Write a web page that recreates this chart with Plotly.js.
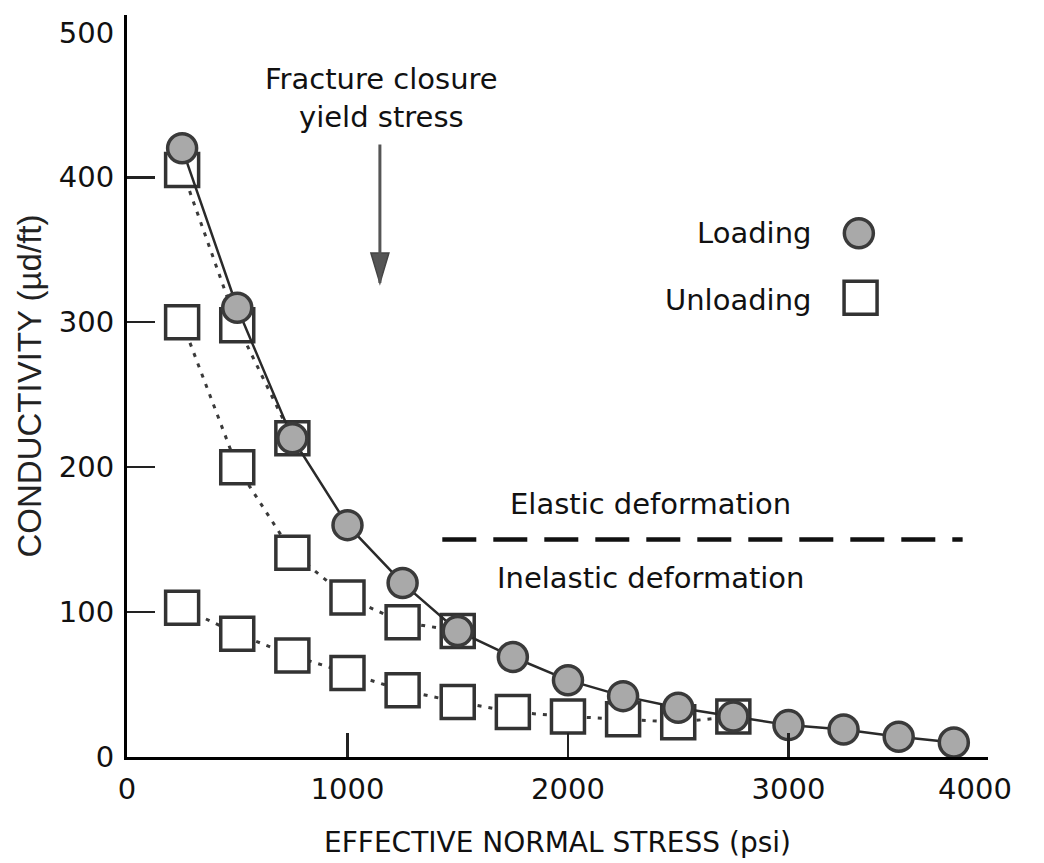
<!DOCTYPE html>
<html>
<head>
<meta charset="utf-8">
<script src="https://cdn.plot.ly/plotly-3.0.1.min.js"></script>
<style>html,body{margin:0;padding:0;background:#fff;}#chart{width:1044px;height:863px;}</style>
</head>
<body>
<div id="chart"></div>
<script>
// Loading curve
const stressLoad = [250, 500, 750, 1000, 1250, 1500, 1750, 2000, 2250, 2500, 2750, 3000, 3250, 3500, 3750];
const condLoad   = [420, 310, 220, 160, 120, 87, 69, 53, 42, 34, 28, 22, 19, 14, 10];
// Unloading curves (from 750, 1500 and 2750 psi)
const stressUnload1 = [750, 500, 250];
const condUnload1   = [220, 298, 405];
const stressUnload2 = [1500, 1250, 1000, 750, 500, 250];
const condUnload2   = [87, 93, 110, 141, 200, 300];
const stressUnload3 = [2750, 2500, 2250, 2000, 1750, 1500, 1250, 1000, 750, 500, 250];
const condUnload3   = [28, 24, 26, 28, 31, 38, 46, 58, 70, 85, 103];
// Axis ticks
const xTickVals = [0, 1000, 2000, 3000, 3846];
const xTickText = ['0', '1000', '2000', '3000', '4000'];
const xTickMarks = [1000, 2000, 3000];
const yTickVals = [0, 100, 200, 300, 400, 500];
const yTickText = ['0', '100', '200', '300', '400', '500'];
const yTickMarks = [100, 200, 300, 400];
const xRange = [0, 3905];
const yRange = [0, 512];
// Dividing line between elastic / inelastic
const divideX = [1430, 3790];
const divideY = 150;

const ink = '#333333';
const squareMarker = {symbol: 'square', size: 33, color: '#ffffff', line: {color: ink, width: 3.5}};
const unloadLine = {color: '#3a3a3a', width: 3, dash: '4px,7px'};

function unloadTrace(xs, ys) {
  return {x: xs, y: ys, type: 'scatter', mode: 'lines+markers', xaxis: 'x2', yaxis: 'y2',
          line: unloadLine, marker: squareMarker, showlegend: false, cliponaxis: false, hoverinfo: 'x+y'};
}

const data = [
  unloadTrace(stressUnload3, condUnload3),
  unloadTrace(stressUnload2, condUnload2),
  unloadTrace(stressUnload1, condUnload1),
  {x: stressLoad, y: condLoad, type: 'scatter', mode: 'lines+markers', xaxis: 'x2', yaxis: 'y2',
   line: {color: '#2a2a2a', width: 2.5},
   marker: {symbol: 'circle', size: 29, color: '#a9a9a9', line: {color: '#3a3a3a', width: 3.5}},
   showlegend: false, cliponaxis: false}
];

const F = 'DejaVu Sans, Verdana, sans-serif';
const layout = {
  width: 1044, height: 863,
  margin: {l: 127, r: 56, t: 15, b: 106},
  paper_bgcolor: '#ffffff', plot_bgcolor: '#ffffff',
  font: {family: F, size: 29, color: '#111111'},
  showlegend: false,
  xaxis: {range: xRange, showgrid: false, zeroline: false, showline: true, linecolor: '#000', linewidth: 3,
          ticks: '', tickmode: 'array', tickvals: xTickVals, ticktext: xTickText, ticklabelstandoff: 4,
          tickfont: {size: 29}, fixedrange: true,
          title: {text: 'EFFECTIVE NORMAL STRESS (psi)', font: {size: 28, color: '#111'}, standoff: 28}},
  yaxis: {range: yRange, showgrid: false, zeroline: false, showline: true, linecolor: '#000', linewidth: 3,
          ticks: '', tickmode: 'array', tickvals: yTickVals, ticktext: yTickText, ticklabelstandoff: 4,
          tickfont: {size: 29}, fixedrange: true,
          title: {text: 'CONDUCTIVITY (µd/ft)', font: {family: 'Liberation Sans, Arial, sans-serif', size: 33, color: '#222'}, standoff: 8}},
  xaxis2: {range: xRange, overlaying: 'x', anchor: 'y2', side: 'bottom', showgrid: false, zeroline: false, showline: false,
           ticks: 'inside', ticklen: 24, tickwidth: 2.5, tickcolor: '#222', tickmode: 'array', tickvals: xTickMarks,
           showticklabels: false, fixedrange: true},
  yaxis2: {range: yRange, overlaying: 'y', anchor: 'x2', side: 'left', showgrid: false, zeroline: false, showline: false,
           ticks: 'inside', ticklen: 28, tickwidth: 2.5, tickcolor: '#222', tickmode: 'array', tickvals: yTickMarks,
           showticklabels: false, fixedrange: true},
  shapes: [
    {type: 'line', xref: 'x', yref: 'y', x0: divideX[0], x1: divideX[1], y0: divideY, y1: divideY,
     line: {color: '#111', width: 4.5, dash: '34px,17px'}},
    // arrow head
    {type: 'path', xref: 'x', yref: 'y', xsizemode: 'pixel', ysizemode: 'pixel', xanchor: 1147, yanchor: 327,
     path: 'M-9,30 L9,30 L0,0 Z', fillcolor: '#555', line: {color: '#444', width: 1.5}},
    // legend keys
    {type: 'circle', xref: 'paper', yref: 'paper', xsizemode: 'pixel', ysizemode: 'pixel', xanchor: 0.850, yanchor: 0.706,
     x0: -14.5, x1: 14.5, y0: -14.5, y1: 14.5, fillcolor: '#a9a9a9', line: {color: '#3a3a3a', width: 3.5}},
    {type: 'rect', xref: 'paper', yref: 'paper', xsizemode: 'pixel', ysizemode: 'pixel', xanchor: 0.852, yanchor: 0.619,
     x0: -16.5, x1: 16.5, y0: -16.5, y1: 16.5, fillcolor: '#ffffff', line: {color: ink, width: 3.5}}
  ],
  annotations: [
    {text: 'Fracture closure<br>yield stress', xref: 'paper', yref: 'paper', x: 0.296, y: 0.888,
     xanchor: 'center', yanchor: 'middle', showarrow: false, font: {size: 29}},
    {text: '', xref: 'x', yref: 'y', x: 1147, y: 327, ax: 0, ay: -140, showarrow: true, arrowhead: 0,
     arrowwidth: 3, arrowcolor: '#555'},
    {text: 'Elastic deformation', xref: 'paper', yref: 'paper', x: (650 - 127) / 861, y: (757 - 504) / 742,
     xanchor: 'center', yanchor: 'middle', showarrow: false, font: {size: 29}},
    {text: 'Inelastic deformation', xref: 'paper', yref: 'paper', x: (651 - 127) / 861, y: (757 - 578) / 742,
     xanchor: 'center', yanchor: 'middle', showarrow: false, font: {size: 29}},
    {text: 'Loading', xref: 'paper', yref: 'paper', x: (813 - 127) / 861, y: 0.706,
     xanchor: 'right', yanchor: 'middle', showarrow: false, font: {size: 29}},
    {text: 'Unloading', xref: 'paper', yref: 'paper', x: (813 - 127) / 861, y: 0.616,
     xanchor: 'right', yanchor: 'middle', showarrow: false, font: {size: 29}}
  ]
};

Plotly.newPlot('chart', data, layout, {displayModeBar: false, staticPlot: true});
</script>
</body>
</html>
